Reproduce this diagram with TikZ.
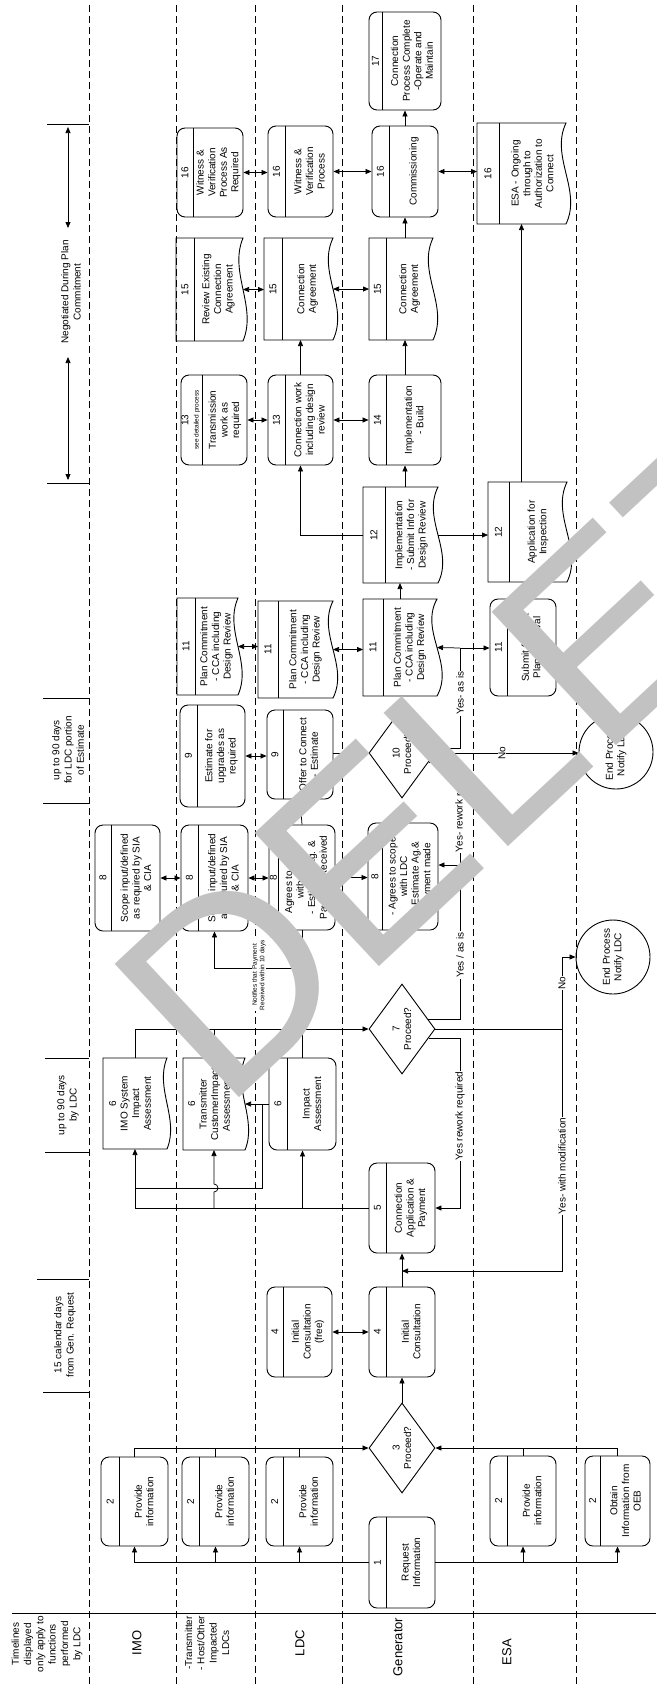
\documentclass[tikz,border=0pt]{standalone}
\usepackage{fontspec}
\setmainfont{Liberation Sans}
\usetikzlibrary{arrows.meta,calc,shapes.geometric}
\tikzset{
  boxline/.style={draw=black, line width=0.9pt},
  pbx/.style={draw=black, line width=0.9pt, rounded corners=8pt, rectangle, inner sep=0pt},
  inv/.style={rectangle, inner sep=0pt, outer sep=0pt},
  dia/.style={diamond, draw=black, line width=0.9pt, minimum width=66pt, minimum height=90pt, inner sep=0pt},
  endc/.style={circle, draw=black, line width=0.9pt, minimum size=74pt, inner sep=0pt},
  numtxt/.style={rotate=90, font=\fontsize{10}{12}\selectfont, inner sep=0pt},
  bodytxt/.style={rotate=90, align=center, font=\fontsize{10}{11.6}\selectfont, inner sep=0pt},
  conn/.style={line width=0.75pt},
  arr/.style={conn, -{Triangle[length=6pt,width=5pt]}},
  darr/.style={conn, {Triangle[length=6pt,width=5pt]}-{Triangle[length=6pt,width=5pt]}},
  lane/.style={line width=0.75pt, dash pattern=on 7pt off 4pt},
  lbl/.style={rotate=90, fill=white, inner sep=1pt, font=\fontsize{10}{11.6}\selectfont},
  hdr/.style={rotate=90, align=center, font=\fontsize{13}{15}\selectfont},
  tl/.style={rotate=90, align=center, font=\fontsize{10}{12.3}\selectfont},
  tiny/.style={rotate=90, align=center, font=\fontsize{6.5}{7.5}\selectfont, inner sep=0.5pt},
  wm/.style={text=black!24, font=\fontsize{265}{265}\selectfont, inner sep=0pt},
}
% rounded process box: name, xl, yt, xr, yb, strip, number, text
\newcommand{\pbox}[8]{%
  \node[pbx, minimum width=#4pt-#2pt, minimum height=#5pt-#3pt] (#1) at ({(#2+#4)/2},{(#3+#5)/2}) {};
  \draw[boxline] ([xshift=#6pt]#1.north west) -- ([xshift=#6pt]#1.south west);
  \node[numtxt] (#1n) at ([xshift=#6pt/2]#1.west) {#7};
  \node[bodytxt] (#1t) at ([xshift=#6pt/2]#1.center) {#8};}
% document box: name, xl, yt, xr, yb, strip, amplitude, number, text
\newcommand{\docbox}[9]{%
  \node[inv, minimum width=#4pt-#2pt, minimum height=#5pt-#3pt] (#1) at ({(#2+#4)/2},{(#3+#5)/2}) {};
  \draw[boxline] (#1.north west) -- (#1.south west) -- (#1.south east)
    .. controls ([shift={({1.8*#7pt},{(#5-#3)/3*1pt})}]#1.south east)
       and ([shift={({-1.8*#7pt},{-(#5-#3)/3*1pt})}]#1.north east) .. (#1.north east) -- cycle;
  \draw[boxline] ([xshift=#6pt]#1.north west) -- ([xshift=#6pt]#1.south west);
  \node[numtxt] (#1n) at ([xshift=#6pt/2]#1.west) {#8};
  \node[bodytxt] (#1t) at ([xshift=#6pt/2]#1.center) {#9};}
% document box without strip: name, xl, yt, xr, yb, amplitude, text
\newcommand{\docnd}[7]{%
  \node[inv, minimum width=#4pt-#2pt, minimum height=#5pt-#3pt] (#1) at ({(#2+#4)/2},{(#3+#5)/2}) {};
  \draw[boxline] (#1.north west) -- (#1.south west) -- (#1.south east)
    .. controls ([shift={({1.8*#6pt},{(#5-#3)/3*1pt})}]#1.south east)
       and ([shift={({-1.8*#6pt},{-(#5-#3)/3*1pt})}]#1.north east) .. (#1.north east) -- cycle;
  \node[bodytxt] (#1t) at ([xshift=-5pt]#1.center) {#7};}
\begin{document}
\begin{tikzpicture}[x=1pt,y=-1pt]
\useasboundingbox (0,0) rectangle (656,1684);
% lanes
\foreach \lx in {89,176,255,342,473,576} \draw[lane] (\lx,5) -- (\lx,1684);
\draw[line width=0.8pt] (12,1613) -- (656,1613);
% lane headers
\node[tl] (h0) at (47,1644) {Timelines\\displayed\\only apply to\\functions\\performed\\by LDC};
\node[hdr] (h1) at (137,1643) {IMO};
\node[tl] (h2) at (207,1643) {-Transmitter\\- Host/Other\\Impacted\\LDCs};
\node[hdr] (h3) at (300,1643) {LDC};
\node[hdr] (h4) at (398,1647) {Generator};
\node[hdr] (h5) at (507,1652) {ESA};
% timelines
\draw[conn] (43,1392) -- (89,1392);
\draw[conn] (37,1279) -- (89,1279);
\node[tl] (tl1) at (65,1335) {15 calendar days\\from Gen. Request};
\draw[conn] (45,1152) -- (89,1152);
\draw[conn] (45,1058) -- (89,1058);
\node[tl] (tl2) at (68,1105) {up to 90 days\\by LDC};
\draw[conn] (43,803) -- (89,803);
\draw[conn] (43,698) -- (89,698);
\node[tl] (tl3) at (68,750) {up to 90 days\\for LDC portion\\of Estimate};
\draw[conn] (47,483) -- (89,483);
\draw[conn] (47,124) -- (89,124);
\node[tl] (tl4) at (71,292) {Negotiated During Plan\\Commitment};
\coordinate (ta1) at (68,127); \coordinate (ta2) at (68,228);
\coordinate (ta3) at (68,357); \coordinate (ta4) at (68,480);
\draw[darr] (ta1) -- (ta2);
\draw[darr] (ta3) -- (ta4);
% ---------------- boxes
% IMO
\pbox{i2}{101}{1457}{168}{1546}{19}{2}{Provide\\information}
\docnd{i6}{103}{1058}{167}{1149}{7}{6\\IMO System\\Impact\\Assessment}
\pbox{i8}{95}{825}{160}{931}{17}{8}{Scope input/defined\\as required by SIA\\\& CIA}
% Transmitter
\pbox{t2}{182}{1457}{249}{1546}{18}{2}{Provide\\information}
\docnd{t6}{183}{1058}{245}{1150}{7}{6\\Transmitter\\CustomerImpact\\Assessment}
\pbox{t8}{181}{825}{248}{931}{18}{8}{Scope input/defined\\as required by SIA\\\& CIA}
\pbox{t9}{180}{705}{245}{807}{18}{9}{Estimate for\\upgrades as\\required}
\docbox{t11}{177}{598}{238}{695}{18}{8}{11}{Plan Commitment\\- CCA including\\Design Review}
\node[pbx, minimum width=66pt, minimum height=90pt] (t13) at (214,420) {};
\draw[boxline] ([xshift=22pt]t13.north west) -- ([xshift=22pt]t13.south west);
\node[numtxt] (t13n) at (185,420) {13};
\node[tiny] (t13s) at (197,420) {see detailed process};
\node[bodytxt] (t13t) at (225,420) {Transmission\\work as\\required};
\docbox{t15}{176}{238}{243}{341}{18}{8}{15}{Review Existing\\Connection\\Agreement}
\pbox{t16}{177}{128}{243}{217}{17}{16}{Witness \&\\Verification\\Process As\\Required}
% LDC
\pbox{l2}{266}{1457}{333}{1546}{18}{2}{Provide\\information}
\pbox{l4}{267}{1287}{332}{1377}{17}{4}{Initial\\Consultation\\(free)}
\pbox{l6}{269}{1058}{336}{1150}{19}{6}{Impact\\Assessment}
\pbox{l8}{269}{825}{335}{930}{10}{8}{Agrees to scope\\with Gen.\\- Estimate Ag. \&\\Payment Received}
\pbox{l9}{267}{710}{333}{799}{17}{9}{Offer to Connect\\- Estimate}
\docbox{l11}{258}{601}{333}{698}{20}{9}{11}{Plan Commitment\\- CCA including\\Design Review}
\pbox{l13}{268}{375}{333}{465}{18}{13}{Connection work\\including design\\review}
\docbox{l15}{264}{238}{333}{340}{18}{9}{15}{Connection\\Agreement}
\pbox{l16}{268}{126}{333}{217}{18}{16}{Witness \&\\Verification\\Process}
% Generator
\pbox{g1}{369}{1517}{435}{1608}{18}{1}{Request\\Information}
\node[dia] (g3) at (402,1448) {};
\node[bodytxt] (g3t) at (g3) {3\\Proceed?};
\pbox{g4}{369}{1287}{435}{1377}{18}{4}{Initial\\Consultation}
\pbox{g5}{369}{1163}{435}{1253}{18}{5}{Connection\\Application \&\\Payment}
\node[dia] (g7) at (402,1029) {};
\node[bodytxt] (g7t) at (g7) {7\\Proceed?};
\pbox{g8}{368}{823}{438}{930}{15}{8}{- Agrees to scope\\with LDC\\- Estimate Ag.\&\\Payment made}
\node[dia] (g10) at (402,753) {};
\node[bodytxt] (g10t) at (g10) {10\\Proceed?};
\docbox{g11}{363}{599}{437}{696}{20}{10}{11}{Plan Commitment\\- CCA including\\Design Review}
\docbox{g12}{363}{487}{438}{583}{22}{9}{12}{Implementation\\- Submit Info for\\Design Review}
\pbox{g14}{369}{375}{441}{465}{18}{14}{Implementation\\- Build}
\docbox{g15}{369}{238}{433}{340}{17}{9}{15}{Connection\\Agreement}
\pbox{g16}{372}{126}{438}{217}{18}{16}{Commissioning}
\pbox{g17}{369}{12}{441}{110}{14}{17}{Connection\\Process Complete\\-Operate and\\Maintain}
% ESA
\pbox{e2a}{490}{1456}{556}{1546}{18}{2}{Provide\\information}
\pbox{e2b}{585}{1456}{650}{1546}{16}{2}{Obtain\\Information from\\OEB}
\pbox{e11}{490}{599}{556}{696}{18}{11}{Submit for ESA\\Plan Approval}
\docbox{e12}{488}{482}{567}{582}{21}{9}{12}{Application for\\Inspection}
\docbox{e16}{477}{123}{566}{224}{22}{9}{16}{ESA - Ongoing\\through to\\Authorization to\\Connect}
\node[endc] (end1) at (616,752) {};
\node[bodytxt] (end1t) at (end1) {End Process\\Notify LDC};
\node[endc] (end2) at (613,957) {};
\node[bodytxt] (end2t) at (end2) {End Process\\Notify LDC};
% ---------------- connectors
% stage 1-3
\draw[arr] (g1.west) -| (i2.south);
\draw[arr] (t2.south |- g1.west) -- (t2.south);
\draw[arr] (l2.south |- g1.west) -- (l2.south);
\draw[arr] (g1.east) -| (e2b.south);
\draw[arr] (e2a.south |- g1.east) -- (e2a.south);
\draw[arr] (i2.north) |- (g3.west);
\draw[conn] (t2.north) -- (t2.north |- g3.west);
\draw[conn] (l2.north) -- (l2.north |- g3.west);
\draw[arr] (e2b.north) |- (g3.east);
\draw[conn] (e2a.north) -- (e2a.north |- g3.east);
\draw[arr] (g3.north) -- (g4.south);
% stage 4-5
\draw[darr] (l4.east) -- (g4.west);
\draw[arr] (g4.north) -- (g5.south);
% stage 6
\draw[arr] (g5.west) -| (i6.south);
\coordinate (hop) at (t6.south |- 0,1188);
\draw[arr] (t6.south |- g5.west) -- ([yshift=-4pt]hop) arc[start angle=-90, end angle=90, radius=4pt] -- (t6.south);
\draw[arr] (l6.south |- g5.west) -- (l6.south);
\draw[arr] (l6.west) -- (t6.east);
\coordinate (j6) at (262,1104);
\draw[conn] (j6) |- (i6.south |- hop);
\draw[arr] (i6.north) |- (g7.west);
\draw[conn] (t6.north) -- (t6.north |- g7.west);
\draw[conn] (l6.north) -- (l6.north |- g7.west);
% stage 7 outcomes
\coordinate (ya) at (460,865);
\coordinate (s7a) at ($(g7.north)!0.78!(g7.east)$);
\coordinate (s7c) at ($(g7.east)!0.2!(g7.south)$);
\draw[conn] (s7a) -- (s7a -| ya) -- (ya);
\draw[arr] (ya) -- (ya -| g8.east);
\node[lbl] (lb1) at (460,955) {Yes / as is};
\coordinate (n7) at (562,1029);
\draw[conn] (g7.east) -- (n7);
\draw[arr] (n7) |- (end2.west);
\node[lbl] (lb2) at (562,983) {No};
\coordinate (m7) at (562,1271);
\draw[arr] (n7) -- (m7) -- (m7 -| g5.south);
\node[lbl] (lb3) at (562,1166) {Yes- with modification};
\draw[arr] (s7c) -- (s7c -| ya) |- (g5.east);
\node[lbl] (lb4) at (460,1116) {Yes rework required};
% stage 8
\draw[darr] (i8.east) -- (i8.east -| t8.west);
\draw[darr] (t8.east) -- (t8.east -| l8.west);
\draw[darr] (l8.east) -- (l8.east -| g8.west);
\coordinate (p8) at (l8.south |- 0,968);
\draw[arr] (l8.south) -- (p8) -| (t8.south);
\node[tiny, fill=white] (lb5) at (259,975) {Notifies that Payment\\Received within 10 days};
\draw[arr] (l8.north) -- (l9.south);
% stage 9-10
\draw[darr] (t9.east) -- (t9.east -| l9.west);
\draw[arr] (l9.east |- g10.west) -- (g10.west);
\coordinate (s10a) at ($(g10.north)!0.9!(g10.east)$);
\coordinate (s10c) at ($(g10.east)!0.2!(g10.south)$);
\coordinate (yb) at (460,648);
\draw[conn] (s10a) -- (s10a -| yb) -- (yb);
\draw[arr] (yb) -- (g11.east);
\draw[arr] (yb) -- (yb -| e11.west);
\node[lbl] (lb6) at (460,693) {Yes- as is};
\draw[arr] (g10.east) -- (g10.east -| end1.west);
\node[lbl] (lb7) at (502,753) {No};
\draw[conn] (s10c) -- (s10c -| ya) -- (ya);
\node[lbl] (lb8) at (460,812) {Yes- rework req'd.};
% stage 11-12
\draw[darr] (t11.east) -- (t11.east -| l11.west);
\draw[darr] (l11.east) -- (l11.east -| g11.west);
\draw[arr] (g11.north) -- (g11.north |- g12.south);
\draw[arr] (g12.east) -- (g12.east -| e12.west);
\draw[arr] (g12.west) -| (l13.south);
\draw[arr] (g14.south |- g12.north) -- (g14.south);
\draw[arr] (e16.south |- e12.north) -- (e16.south);
% stage 13-14
\draw[darr] (t13.east) -- (t13.east -| l13.west);
\draw[darr] (l13.east) -- (l13.east -| g14.west);
\draw[arr] (l13.north) -- (l13.north |- l15.south);
\draw[arr] (g14.north) -- (g14.north |- g15.south);
% stage 15-17
\draw[darr] (t15.east) -- (t15.east -| l15.west);
\draw[darr] (l15.east) -- (l15.east -| g15.west);
\draw[arr] (g16.south |- g15.north) -- (g16.south);
\draw[darr] (t16.east) -- (t16.east -| l16.west);
\draw[darr] (l16.east) -- (l16.east -| g16.west);
\draw[darr] (g16.east) -- (g16.east -| e16.west);
\draw[arr] (g16.north) -- (g16.north |- g17.south);
% watermark
\node[wm, rotate=43] (wmk) at (538,694) {DELETE};
\end{tikzpicture}
\end{document}
